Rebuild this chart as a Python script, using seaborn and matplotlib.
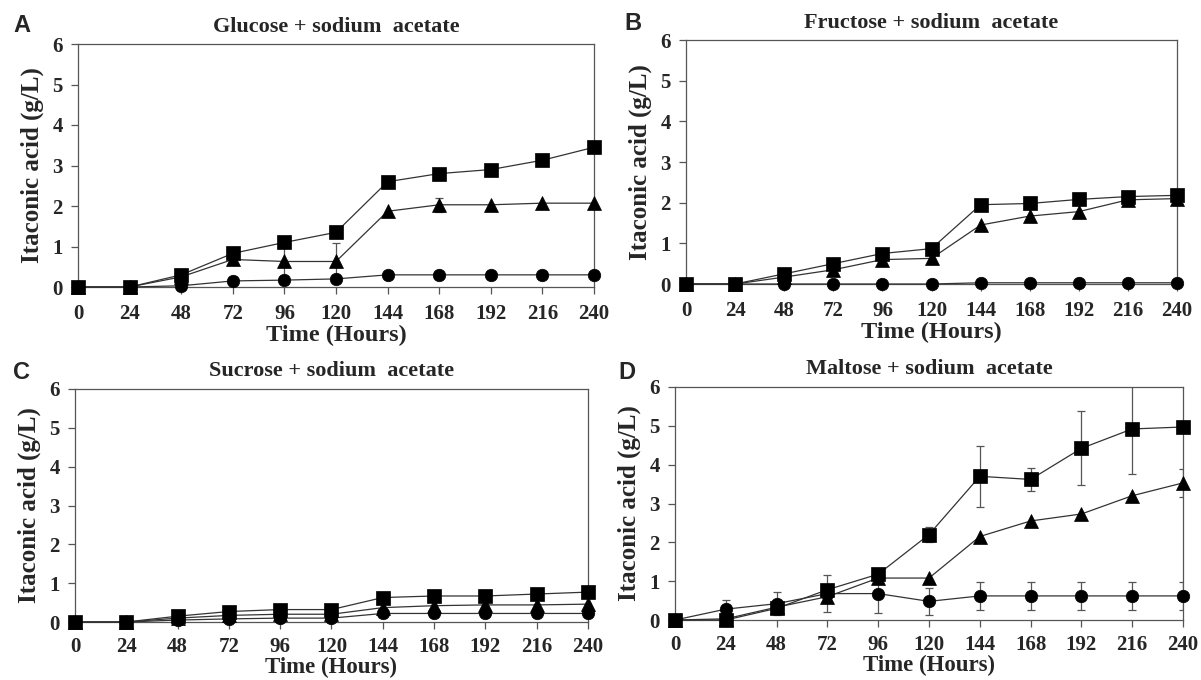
import numpy as np
import pandas as pd
import matplotlib
matplotlib.use("Agg")
import matplotlib.pyplot as plt
import seaborn as sns

hours = [0, 24, 48, 72, 96, 120, 144, 168, 192, 216, 240]
y_ticks = [0, 1, 2, 3, 4, 5, 6]

titles = ["Glucose + sodium  acetate", "Fructose + sodium  acetate",
          "Sucrose + sodium  acetate", "Maltose + sodium  acetate"]
letters = ["A", "B", "C", "D"]

# Panel A - glucose
a_square = [0, 0, 0.30, 0.83, 1.10, 1.35, 2.60, 2.80, 2.90, 3.13, 3.45]
a_triangle = [0, 0, 0.25, 0.68, 0.63, 0.63, 1.87, 2.03, 2.03, 2.07, 2.07]
a_circle = [0, 0, 0.03, 0.15, 0.17, 0.20, 0.30, 0.30, 0.30, 0.30, 0.30]
a_square_err = [0, 0, 0, 0, 0, 0, 0, 0, 0, 0, 0]
a_triangle_err = [0, 0, 0, 0, 0.35, 0.45, 0, 0.17, 0, 0, 0]
a_circle_err = [0, 0, 0, 0, 0, 0, 0, 0, 0, 0, 0]

# Panel B - fructose
b_square = [0, 0, 0.25, 0.50, 0.75, 0.87, 1.95, 1.98, 2.08, 2.15, 2.18]
b_triangle = [0, 0, 0.17, 0.35, 0.60, 0.63, 1.45, 1.67, 1.78, 2.07, 2.10]
b_circle = [0, 0, 0, 0, 0, 0, 0.03, 0.03, 0.03, 0.03, 0.03]
b_square_err = [0] * 11
b_triangle_err = [0] * 11
b_circle_err = [0] * 11

# Panel C - sucrose
c_square = [0, 0, 0.15, 0.27, 0.32, 0.32, 0.63, 0.67, 0.67, 0.72, 0.77]
c_triangle = [0, 0, 0.10, 0.17, 0.20, 0.20, 0.37, 0.42, 0.44, 0.44, 0.46]
c_circle = [0, 0, 0.05, 0.08, 0.10, 0.10, 0.22, 0.22, 0.22, 0.22, 0.22]
c_square_err = [0] * 11
c_triangle_err = [0] * 11
c_circle_err = [0] * 11

# Panel D - maltose
d_square = [0, 0, 0.30, 0.78, 1.18, 2.20, 3.70, 3.62, 4.42, 4.92, 4.97]
d_triangle = [0, 0.03, 0.33, 0.60, 1.08, 1.08, 2.15, 2.55, 2.73, 3.20, 3.53]
d_circle = [0, 0.28, 0.42, 0.68, 0.68, 0.48, 0.62, 0.62, 0.62, 0.62, 0.62]
d_square_err = [0, 0, 0.05, 0, 0, 0.20, 0.78, 0.30, 0.95, 1.17, 0.05]
d_triangle_err = [0, 0, 0, 0, 0, 0, 0, 0, 0, 0, 0.35]
d_circle_err = [0, 0.23, 0.30, 0.47, 0.50, 0.35, 0.35, 0.35, 0.35, 0.35, 0.35]

panels = [
    (a_square, a_triangle, a_circle, a_square_err, a_triangle_err, a_circle_err),
    (b_square, b_triangle, b_circle, b_square_err, b_triangle_err, b_circle_err),
    (c_square, c_triangle, c_circle, c_square_err, c_triangle_err, c_circle_err),
    (d_square, d_triangle, d_circle, d_square_err, d_triangle_err, d_circle_err),
]

sns.set_style("ticks")
plt.rcParams["font.family"] = ["Liberation Serif", "DejaVu Serif"]
plt.rcParams["font.weight"] = "bold"

W, H = 1201, 680
fig = plt.figure(figsize=(W / 100, H / 100), dpi=100)
fig.patch.set_facecolor("white")

# pixel boxes (left, right, top, bottom)
boxes = [(78, 594, 44, 287), (686, 1177, 40, 284),
         (75, 588, 389, 622), (675, 1183, 387, 620)]
letter_pos = [(13, 25), (624, 23), (13, 372), (618, 372)]

line_col = "#333333"
markers = {"square": ("s", 9.5), "triangle": ("^", 9.5), "circle": ("o", 9.0)}

for i, (sq, tr, ci, sqe, tre, cie) in enumerate(panels):
    l, r, t, b = boxes[i]
    bottom_row = i >= 2
    ax = fig.add_axes([l / W, 1 - b / H, (r - l) / W, (b - t) / H])
    series = [("circle", ci, cie), ("triangle", tr, tre), ("square", sq, sqe)]
    for name, vals, errs in series:
        df = pd.DataFrame({"Time": hours, "Value": vals})
        m, ms = markers[name]
        errs = np.asarray(errs, dtype=float)
        mask = errs > 0
        if mask.any():
            ax.errorbar(np.asarray(hours)[mask], np.asarray(vals)[mask],
                        yerr=errs[mask], fmt="none", ecolor="#555555",
                        elinewidth=0.9, capsize=3, capthick=0.9, zorder=2)
        sns.lineplot(data=df, x="Time", y="Value", ax=ax, color=line_col,
                     linewidth=0.9, marker=m, markersize=ms,
                     markerfacecolor="black", markeredgecolor="black",
                     markeredgewidth=0.5, zorder=3, clip_on=False)
    ax.set_xlim(0, 240)
    ax.set_ylim(0, 6)
    ax.set_xticks(hours)
    ax.set_yticks(y_ticks)
    ax.set_xticklabels([str(h) for h in hours], fontsize=15, fontweight="bold")
    ax.set_yticklabels([str(v) for v in y_ticks], fontsize=15, fontweight="bold")
    ax.tick_params(axis="both", direction="out", length=5, width=0.9,
                   color="#555555")
    ax.tick_params(axis="x", pad=6 if bottom_row else 7)
    ax.tick_params(axis="y", pad=6)
    for s in ax.spines.values():
        s.set_visible(True)
        s.set_color("#555555")
        s.set_linewidth(0.9)
    ax.set_xlabel("Time (Hours)", fontsize=16.5 if bottom_row else 17.5,
                  fontweight="bold", labelpad=0 if bottom_row else 1)
    ax.set_ylabel("Itaconic acid (g/L)", fontsize=18, fontweight="bold", labelpad=6)
    ax.set_title(titles[i], fontsize=16, fontweight="bold", pad=9)
    lx, ly = letter_pos[i]
    fig.text(lx / W, 1 - ly / H, letters[i], fontsize=17, fontweight="bold",
             family="Liberation Sans", va="center", ha="left")

fig.savefig("out.png", dpi=100, facecolor="white")
